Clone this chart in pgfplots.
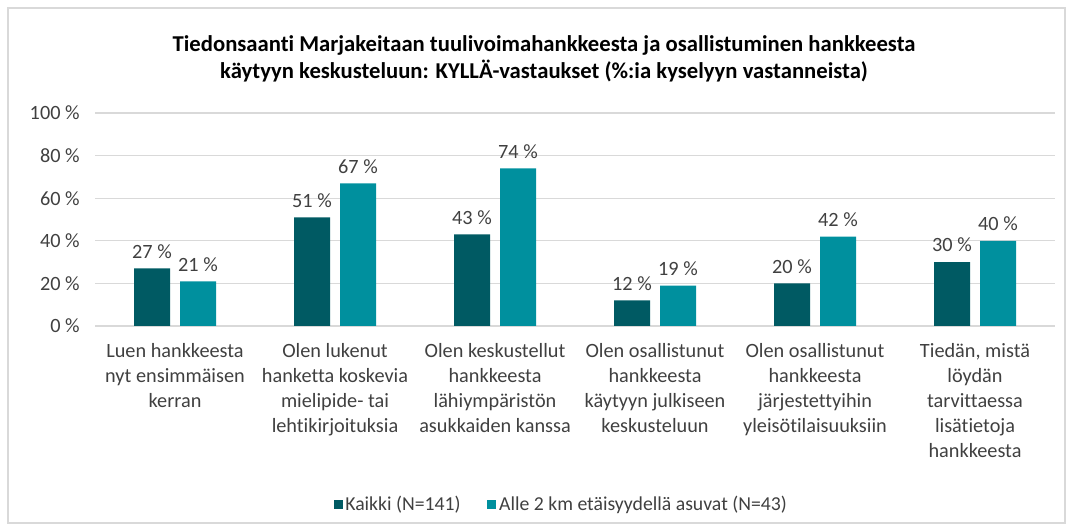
\documentclass[border=0pt]{standalone}
\usepackage{pgfplots}
\pgfplotsset{compat=1.18}
\usepackage{fontspec}
\setmainfont{Carlito}[Ligatures={NoCommon}]
\definecolor{dteal}{HTML}{005A63}
\definecolor{lteal}{HTML}{00909E}
\definecolor{gridc}{HTML}{D9D9D9}
\definecolor{txt}{HTML}{404040}
\begin{document}
\begin{tikzpicture}
\path[use as bounding box] (0,0) rectangle (804.75pt,398.25pt);
\draw[gridc, line width=1.2pt] (6pt,6pt) rectangle (798.75pt,392.25pt);
\node[align=center, font=\fontsize{17pt}{20.25pt}\selectfont\bfseries, text=black] at (408pt,354.4pt)
 {Tiedonsaanti Marjakeitaan tuulivoimahankkeesta ja osallistuminen hankkeesta\\käytyyn keskusteluun: KYLLÄ-vastaukset (\%:ia kyselyyn vastanneista)};
\begin{axis}[
  at={(71.25pt,153.75pt)}, anchor=south west,
  scale only axis, width=720pt, height=159.75pt,
  ymin=0, ymax=100, xmin=-0.5, xmax=5.5,
  ytick={0,20,...,100},
  yticklabel={\pgfmathprintnumber{\tick}~\%},
  yticklabel style={font=\fontsize{15.2pt}{18.75pt}\selectfont, text=txt, xshift=-8pt},
  /pgf/number format/assume math mode=true,
  ymajorgrids, grid style={gridc, line width=1pt},
  axis line style={draw=none},
  major tick length=0pt,
  xtick=data,
  xticklabels={
    {Luen hankkeesta\\nyt ensimmäisen\\kerran},
    {Olen lukenut\\hanketta koskevia\\mielipide- tai\\lehtikirjoituksia},
    {Olen keskustellut\\hankkeesta\\lähiympäristön\\asukkaiden kanssa},
    {Olen osallistunut\\hankkeesta\\käytyyn julkiseen\\keskusteluun},
    {Olen osallistunut\\hankkeesta\\järjestettyihin\\yleisötilaisuuksiin},
    {Tiedän, mistä\\löydän\\tarvittaessa\\lisätietoja\\hankkeesta}},
  xticklabel style={align=center, font=\fontsize{15.2pt}{18.75pt}\selectfont, text=txt, yshift=-9.5pt},
  ybar, bar width=27pt,
  nodes near coords={\pgfmathprintnumber{\pgfplotspointmeta}~\%},
  nodes near coords style={font=\fontsize{15.2pt}{18.75pt}\selectfont, text=txt, yshift=4pt},
  legend style={at={(0.486,-0.838)}, anchor=center, draw=none, legend columns=2,
    font=\fontsize{14.8pt}{18pt}\selectfont, text=txt,
    /tikz/every even column/.append style={column sep=18pt}},
  legend image code/.code={\fill[#1] (0pt,-3.4pt) rectangle (6.8pt,3.4pt);},
]
\addplot[fill=dteal, draw=none, bar shift=-17.25pt] coordinates {(0,27) (1,51) (2,43) (3,12) (4,20) (5,30)};
\addplot[fill=lteal, draw=none, bar shift=17.25pt] coordinates {(0,21) (1,67) (2,74) (3,19) (4,42) (5,40)};
\legend{Kaikki (N=141), Alle 2 km etäisyydellä asuvat (N=43)}
\end{axis}
\end{tikzpicture}
\end{document}
